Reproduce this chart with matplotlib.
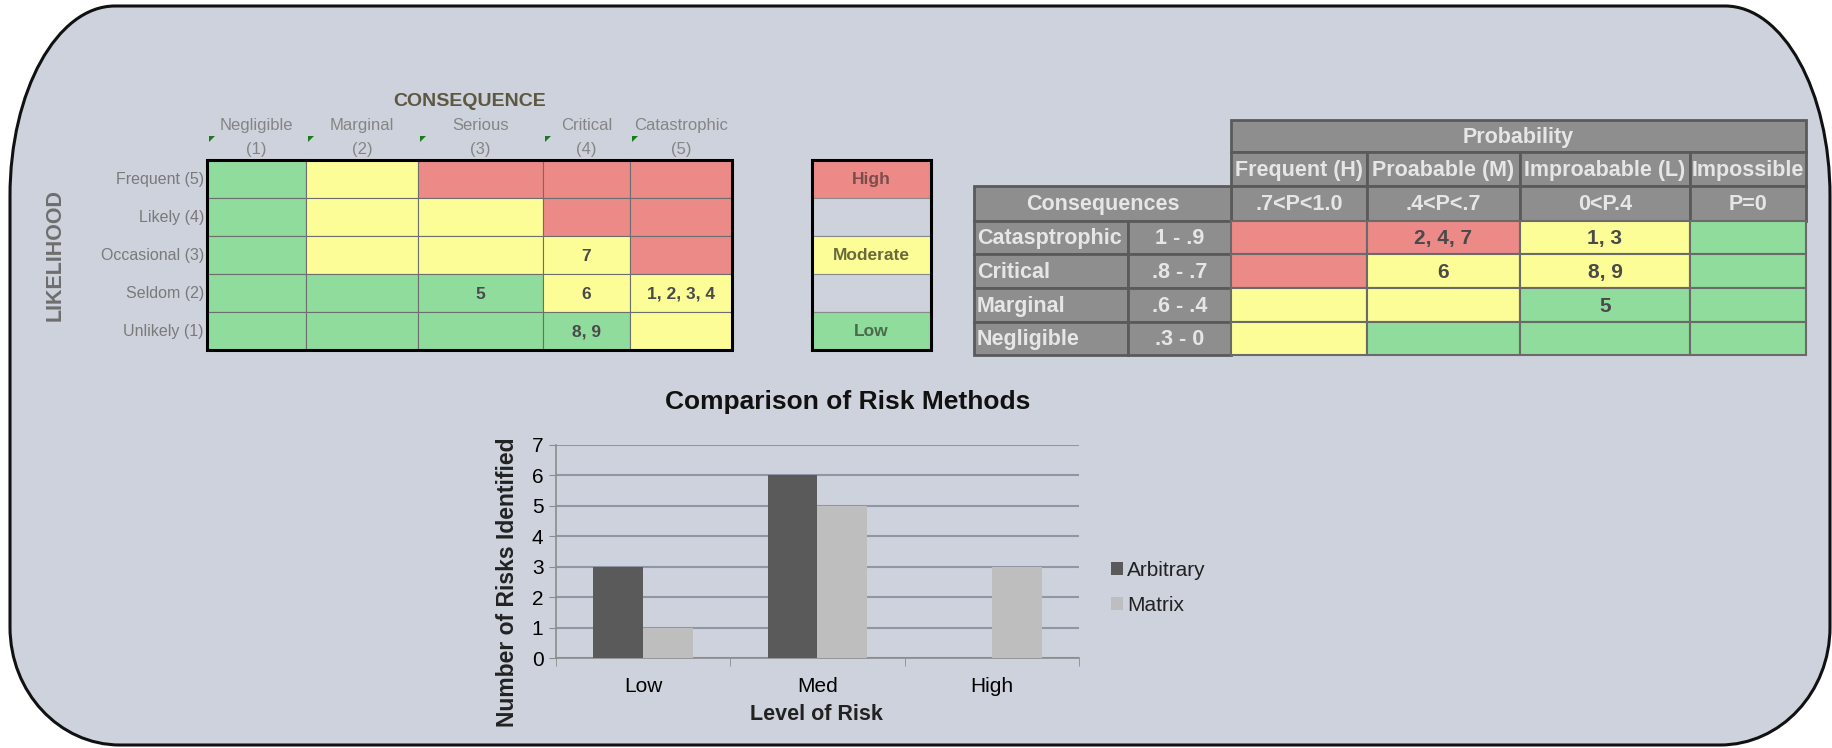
import matplotlib
matplotlib.use("Agg")
import matplotlib.pyplot as plt
from matplotlib.patches import Rectangle, PathPatch, Polygon
from matplotlib.path import Path
from matplotlib import font_manager

# risk matrix (rows = likelihood, cols = consequence)
consequence_labels = ["Negligible\n(1)", "Marginal\n(2)", "Serious\n(3)", "Critical\n(4)", "Catastrophic\n(5)"]
likelihood_labels = ["Frequent (5)", "Likely (4)", "Occasional (3)", "Seldom (2)", "Unlikely (1)"]
matrix_levels = [["L", "M", "H", "H", "H"],
                 ["L", "M", "M", "H", "H"],
                 ["L", "M", "M", "M", "H"],
                 ["L", "L", "L", "M", "M"],
                 ["L", "L", "L", "L", "M"]]
matrix_risks = [["", "", "", "", ""],
                ["", "", "", "", ""],
                ["", "", "", "7", ""],
                ["", "", "5", "6", "1, 2, 3, 4"],
                ["", "", "", "8, 9", ""]]
legend_labels = ["High", "", "Moderate", "", "Low"]
legend_levels = ["H", None, "M", None, "L"]

# probability table
prob_headers = ["Frequent (H)", "Proabable (M)", "Improabable (L)", "Impossible"]
prob_ranges = [".7<P<1.0", ".4<P<.7", "0<P.4", "P=0"]
cons_labels = ["Catasptrophic", "Critical", "Marginal", "Negligible"]
cons_ranges = ["1 - .9", ".8 - .7", ".6 - .4", ".3 - 0"]
table_levels = [["H", "H", "M", "L"],
                ["H", "M", "M", "L"],
                ["M", "M", "L", "L"],
                ["M", "L", "L", "L"]]
table_risks = [["", "2, 4, 7", "1, 3", ""],
               ["", "6", "8, 9", ""],
               ["", "", "5", ""],
               ["", "", "", ""]]

# bar chart
risk_levels = ["Low", "Med", "High"]
arbitrary = [3, 6, 0]
matrix_counts = [1, 5, 3]

colors = {"H": "#EC8A88", "M": "#FDFD98", "L": "#8FDC9C"}
text_dark = {"H": "#7a4c4c", "M": "#6a6a3c", "L": "#4a6a4c"}

names = {f.name for f in font_manager.fontManager.ttflist}
narrow = "Liberation Sans Narrow" if "Liberation Sans Narrow" in names else "Liberation Sans"
plt.rcParams["font.family"] = [narrow, "DejaVu Sans"]
wide = ["Liberation Sans", "DejaVu Sans"]

W, H = 1833, 748
fig = plt.figure(figsize=(W / 100, H / 100), dpi=100)
fig.patch.set_facecolor("white")
bg = fig.add_axes([0, 0, 1, 1])
bg.set_xlim(0, W)
bg.set_ylim(H, 0)
bg.axis("off")

# rounded frame
L, R, T, B = 10, 1830, 6, 745
rxt, ryt, rxb, ryb = 105, 190, 110, 118
k = 0.5523
verts = [(L + rxt, T), (R - rxt, T),
         (R - rxt + k * rxt, T), (R, T + ryt - k * ryt), (R, T + ryt),
         (R, B - ryb),
         (R, B - ryb + k * ryb), (R - rxb + k * rxb, B), (R - rxb, B),
         (L + rxb, B),
         (L + rxb - k * rxb, B), (L, B - ryb + k * ryb), (L, B - ryb),
         (L, T + ryt),
         (L, T + ryt - k * ryt), (L + rxt - k * rxt, T), (L + rxt, T)]
codes = [Path.MOVETO, Path.LINETO,
         Path.CURVE4, Path.CURVE4, Path.CURVE4,
         Path.LINETO,
         Path.CURVE4, Path.CURVE4, Path.CURVE4,
         Path.LINETO,
         Path.CURVE4, Path.CURVE4, Path.CURVE4,
         Path.LINETO,
         Path.CURVE4, Path.CURVE4, Path.CURVE4]
bg.add_patch(PathPatch(Path(verts, codes), facecolor="#CDD2DC", edgecolor="#111111", lw=2.2, zorder=0))

# ---- left risk matrix ----
col_x = [207, 306, 418, 543, 630, 732]
row_y = [160, 198, 236, 274, 312, 350]
for i in range(5):
    for j in range(5):
        lv = matrix_levels[i][j]
        bg.add_patch(Rectangle((col_x[j], row_y[i]), col_x[j + 1] - col_x[j], row_y[i + 1] - row_y[i],
                               facecolor=colors[lv], edgecolor="#6e6e6e", lw=0.8, zorder=2))
        if matrix_risks[i][j]:
            bg.text((col_x[j] + col_x[j + 1]) / 2, (row_y[i] + row_y[i + 1]) / 2 + 1, matrix_risks[i][j],
                    ha="center", va="center", fontsize=12.5, fontweight="bold", color="#4a4a4a", zorder=3)
bg.add_patch(Rectangle((col_x[0], row_y[0]), col_x[-1] - col_x[0], row_y[-1] - row_y[0],
                       fill=False, edgecolor="black", lw=2.2, zorder=4))
for i, lab in enumerate(likelihood_labels):
    bg.text(col_x[0] - 3, (row_y[i] + row_y[i + 1]) / 2, lab, ha="right", va="center",
            fontsize=11.5, color="#7a7a7a")
for j, lab in enumerate(consequence_labels):
    top, bottom = lab.split("\n")
    cx = (col_x[j] + col_x[j + 1]) / 2
    bg.text(cx, 125, top, ha="center", va="center", fontsize=12, color="#858585")
    bg.text(cx, 149, bottom, ha="center", va="center", fontsize=12, color="#858585")
    bg.add_patch(Polygon([(col_x[j] + 2, 136), (col_x[j] + 8, 136), (col_x[j] + 2, 142)],
                         closed=True, facecolor="#1b7a1b", edgecolor="none"))
bg.text(470, 101, "CONSEQUENCE", ha="center", va="center", fontsize=14, fontweight="bold",
        color="#5c5842", family=wide)
bg.text(55, 255, "LIKELIHOOD", ha="center", va="center", rotation=90, fontsize=15.5,
        fontweight="bold", color="#6e6e6e", family=wide)

# legend column
lx0, lx1 = 812, 931
for i, (lab, lv) in enumerate(zip(legend_labels, legend_levels)):
    fc = colors[lv] if lv else "#CDD2DC"
    bg.add_patch(Rectangle((lx0, row_y[i]), lx1 - lx0, row_y[i + 1] - row_y[i],
                           facecolor=fc, edgecolor="#8a8a8a", lw=0.8, zorder=2))
    if lab:
        bg.text((lx0 + lx1) / 2, (row_y[i] + row_y[i + 1]) / 2, lab, ha="center", va="center",
                fontsize=12.5, fontweight="bold", color=text_dark[lv], family=wide, zorder=3)
bg.add_patch(Rectangle((lx0, row_y[0]), lx1 - lx0, row_y[-1] - row_y[0],
                       fill=False, edgecolor="black", lw=2.2, zorder=4))

# ---- probability table ----
tx = [974, 1128, 1231, 1367, 1520, 1690, 1806]
ty = [120, 152, 186, 221, 254, 288, 322, 355]
hdr_fc, hdr_ec, hdr_tc = "#8E8E8E", "#5a5a5a", "#E6E6E6"


def head_cell(x0, x1, y0, y1, txt, ha="center"):
    bg.add_patch(Rectangle((x0, y0), x1 - x0, y1 - y0, facecolor=hdr_fc, edgecolor=hdr_ec, lw=2, zorder=2))
    tx_ = (x0 + x1) / 2 if ha == "center" else x0 + 3
    bg.text(tx_, (y0 + y1) / 2 + 1, txt, ha=ha, va="center", fontsize=15.5, fontweight="bold",
            color=hdr_tc, zorder=3)


head_cell(tx[2], tx[6], ty[0], ty[1], "Probability")
for j in range(4):
    head_cell(tx[j + 2], tx[j + 3], ty[1], ty[2], prob_headers[j])
    head_cell(tx[j + 2], tx[j + 3], ty[2], ty[3], prob_ranges[j])
head_cell(tx[0], tx[2], ty[2], ty[3], "Consequences")
for i in range(4):
    head_cell(tx[0], tx[1], ty[i + 3], ty[i + 4], cons_labels[i], ha="left")
    head_cell(tx[1], tx[2], ty[i + 3], ty[i + 4], cons_ranges[i])
    for j in range(4):
        lv = table_levels[i][j]
        bg.add_patch(Rectangle((tx[j + 2], ty[i + 3]), tx[j + 3] - tx[j + 2], ty[i + 4] - ty[i + 3],
                               facecolor=colors[lv], edgecolor="#6a6a6a", lw=1.5, zorder=2))
        if table_risks[i][j]:
            bg.text((tx[j + 2] + tx[j + 3]) / 2, (ty[i + 3] + ty[i + 4]) / 2 + 1, table_risks[i][j],
                    ha="center", va="center", fontsize=15, fontweight="bold", color="#4a4a4a", zorder=3)

# ---- bar chart ----
ax = fig.add_axes([556 / W, 1 - 658 / H, (1079 - 556) / W, (658 - 445) / H])
ax.set_facecolor("none")
xs = range(len(risk_levels))
bw = 0.285
ax.bar([x - bw / 2 for x in xs], arbitrary, bw, color="#5a5a5a", label="Arbitrary", zorder=3)
ax.bar([x + bw / 2 for x in xs], matrix_counts, bw, color="#BEBEBE", label="Matrix", zorder=3)
ax.set_xlim(-0.5, 2.5)
ax.set_ylim(0, 7)
ax.set_yticks(range(8))
ax.yaxis.grid(True, color="#8f97a6", lw=1.5, zorder=0)
ax.set_xticks(list(xs))
ax.set_xticklabels(risk_levels, fontsize=15)
ax.set_xticks([-0.5, 0.5, 1.5, 2.5], minor=True)
ax.tick_params(axis="x", which="major", length=0, pad=14)
ax.tick_params(axis="x", which="minor", length=6, color="#8c8c8c")
ax.tick_params(axis="y", length=5, color="#8c8c8c", labelsize=15, pad=4)
for s in ["top", "right"]:
    ax.spines[s].set_visible(False)
for s in ["left", "bottom"]:
    ax.spines[s].set_color("#8c8c8c")
    ax.spines[s].set_linewidth(1.2)
fig.text(848 / W, 1 - 402 / H, "Comparison of Risk Methods", ha="center", va="center",
         fontsize=19, fontweight="bold", color="#111111")
fig.text(816 / W, 1 - 715 / H, "Level of Risk", ha="center", va="center",
         fontsize=15.5, fontweight="bold", color="#222222")
fig.text(508 / W, 1 - 582 / H, "Number of Risks Identified", ha="center", va="center",
         rotation=90, fontsize=16.5, fontweight="bold", color="#222222", family=wide)
leg = ax.legend(loc="center left", bbox_to_anchor=(1.026, 0.33), frameon=False, fontsize=15,
                handlelength=0.55, handleheight=0.6, handletextpad=0.2, labelspacing=0.75)
for t in leg.get_texts():
    t.set_color("#222222")

fig.savefig("out.png", dpi=100)
